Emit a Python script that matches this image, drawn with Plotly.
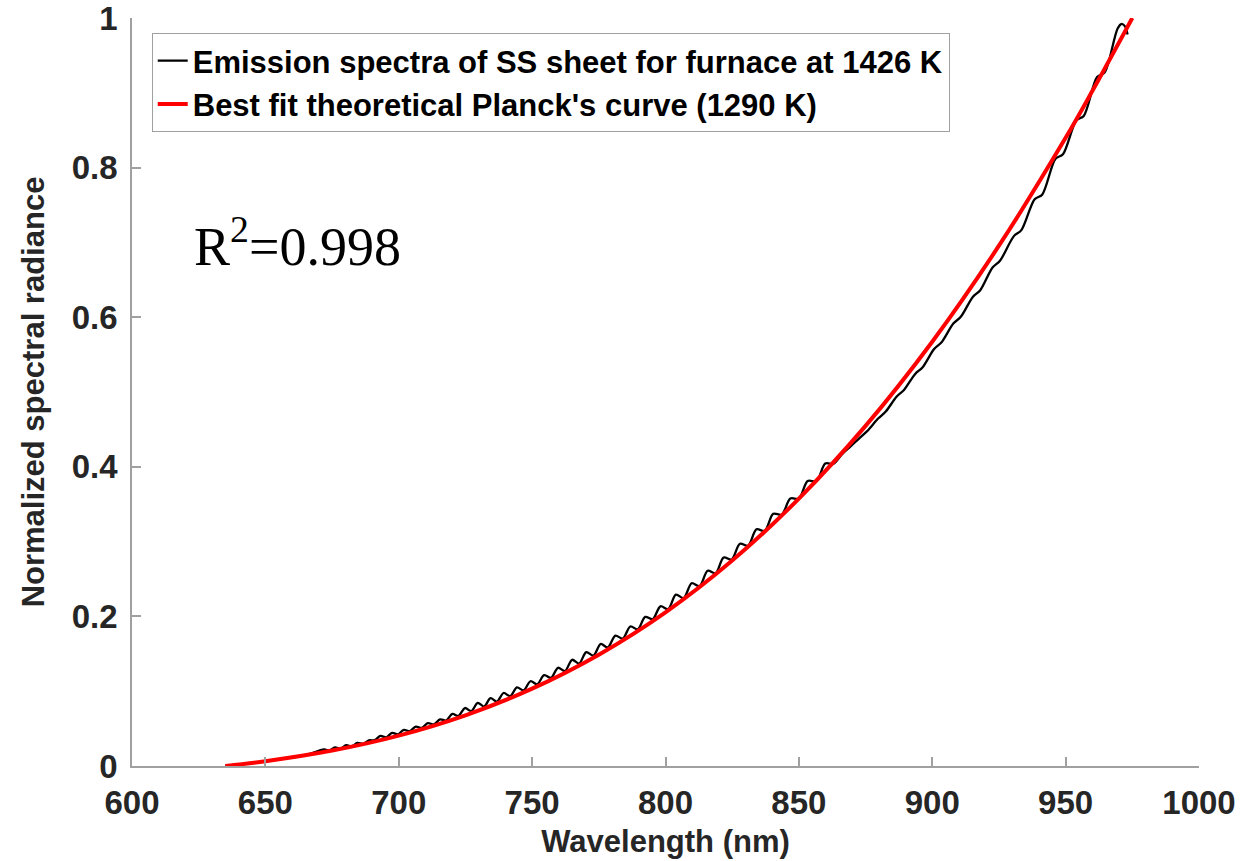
import plotly.graph_objects as go

# Measured emission spectrum (wavelength in nm, normalized radiance)
wl_meas = [635, 645, 655, 665,
           672.0, 674.0, 676.1, 678.2, 680.3, 682.4, 684.5, 686.6, 688.8,
           691.0, 693.1, 695.3, 697.5, 699.7, 701.9, 704.1, 706.4, 708.6, 710.9, 713.2, 715.5, 717.8,
           720.1, 722.4, 724.8,
           727.2, 729.6, 732.0, 734.4, 736.8, 739.3, 741.8, 744.3, 746.8, 749.4, 751.9, 754.5, 757.1, 759.7,
           762.3, 765.0, 767.6, 770.3, 773.0, 775.7, 778.4, 781.2, 784.0, 786.8, 789.6, 792.4, 795.2, 798.1,
           801.0, 803.9, 806.8, 809.8, 812.8, 815.8, 818.8, 821.8, 824.8, 827.9, 831.0, 834.1, 837.2, 840.4, 843.6,
           846.8, 850.0, 853.3, 856.6, 859.9, 863.0,
           866.2, 869.0, 872.9, 875.7, 879.7, 882.5, 886.6, 889.4, 893.6, 896.4,
           900.7, 903.5, 907.9, 910.7, 915.2, 918.0, 922.6, 925.4, 930.6, 933.4,
           938.4, 941.2, 946.2, 949.0, 954.0, 956.8, 961.8, 964.6,
           969.5, 971.0, 972.4, 973.2]
rad_meas = [0.0, 0.0042, 0.0088, 0.0144,
            0.0221, 0.0205, 0.0249, 0.0233, 0.0278, 0.0263, 0.0308, 0.0295, 0.0342,
            0.0345, 0.0403, 0.0383, 0.0443, 0.0424, 0.0484, 0.0465, 0.0527, 0.0509, 0.0573, 0.0557, 0.0623, 0.0609,
            0.0696, 0.0670, 0.0775,
            0.0734, 0.0844, 0.0795, 0.0907, 0.0861, 0.0976, 0.0933, 0.1051, 0.1011, 0.1133, 0.1093, 0.1215, 0.1178, 0.1313,
            0.1269, 0.1420, 0.1370, 0.1523, 0.1477, 0.1631, 0.1585, 0.1743, 0.1703, 0.1865, 0.1828, 0.1994, 0.1962, 0.2135,
            0.2098, 0.2290, 0.2244, 0.2443, 0.2405, 0.2610, 0.2577, 0.2787, 0.2760, 0.2972, 0.2946, 0.3164, 0.3144, 0.3371, 0.3362,
            0.3576, 0.3574, 0.3810, 0.3809, 0.4043, 0.4042,
            0.4170, 0.4260, 0.4391, 0.4481, 0.4645, 0.4735, 0.4937, 0.5027, 0.5242, 0.5332,
            0.5575, 0.5665, 0.5915, 0.6005, 0.6271, 0.6361, 0.6665, 0.6755, 0.7084, 0.7164,
            0.7578, 0.7638, 0.8118, 0.8178, 0.8631, 0.8691, 0.9210, 0.9270,
            0.9860, 0.9920, 0.9880, 0.9780]
assert len(wl_meas) == len(rad_meas)

# Best-fit Planck curve (1290 K), normalized
wl_fit = [635, 650, 675, 700, 725, 750, 775, 800, 825, 850, 875, 900, 925, 950, 960, 975]
rad_fit = [0.0, 0.0064, 0.0207, 0.0407, 0.0678, 0.1034, 0.1488, 0.2054, 0.2746, 0.3575,
           0.4547, 0.5672, 0.6956, 0.8398, 0.9023, 1.0]

x_ticks = [600, 650, 700, 750, 800, 850, 900, 950, 1000]
y_ticks = [0, 0.2, 0.4, 0.6, 0.8, 1]

AXIS_GRAY = "#a0a0a0"
TEXT_DARK = "#262626"
SANS = "Liberation Sans, Arial, sans-serif"

fig = go.Figure()
fig.add_trace(go.Scatter(
    x=wl_meas, y=rad_meas, mode="lines",
    line=dict(color="black", width=2.3, shape="spline", smoothing=0.9),
    name="Emission spectra of SS sheet for furnace at 1426 K",
    legendgroup="meas",
))
fig.add_trace(go.Scatter(
    x=wl_fit, y=rad_fit, mode="lines",
    line=dict(color="#ff0000", width=4, shape="spline"),
    name="Best fit theoretical Planck's curve (1290 K)",
    legendgroup="fit",
))

axis_common = dict(
    showline=True, linecolor=AXIS_GRAY, linewidth=1.5, mirror=False,
    ticks="inside", ticklen=9, tickcolor=AXIS_GRAY, tickwidth=1.5,
    showgrid=False, zeroline=False, automargin=False,
    ticklabeloverflow="allow",
    tickfont=dict(family=SANS, size=33, color=TEXT_DARK, weight="bold"),
)

fig.update_xaxes(
    range=[600, 1000], tickvals=x_ticks, ticklabelstandoff=7,
    title=dict(text="Wavelength (nm)", standoff=10,
               font=dict(family=SANS, size=31, color=TEXT_DARK, weight="bold")),
    **axis_common,
)
fig.update_yaxes(
    range=[0, 1], tickvals=y_ticks, ticklabelstandoff=6,
    title=dict(text="Normalized spectral radiance", standoff=18,
               font=dict(family=SANS, size=31, color=TEXT_DARK, weight="bold")),
    **axis_common,
)

fig.add_annotation(
    x=662, y=0.70, xref="x", yref="y", showarrow=False,
    text="R<sup>2</sup>=0.998",
    font=dict(family="Liberation Serif, Times New Roman, serif", size=54, color="black"),
)

fig.update_layout(
    width=1243, height=861,
    margin=dict(l=132, r=44, t=18, b=95, autoexpand=False),
    paper_bgcolor="white", plot_bgcolor="white",
    legend=dict(
        x=0.0185, y=0.98, xanchor="left", yanchor="top",
        bordercolor=AXIS_GRAY, borderwidth=1, bgcolor="white",
        font=dict(family=SANS, size=31, color="black", weight="bold"),
        traceorder="grouped", tracegroupgap=0, itemwidth=30,
    ),
)

fig.write_html("out.html")
